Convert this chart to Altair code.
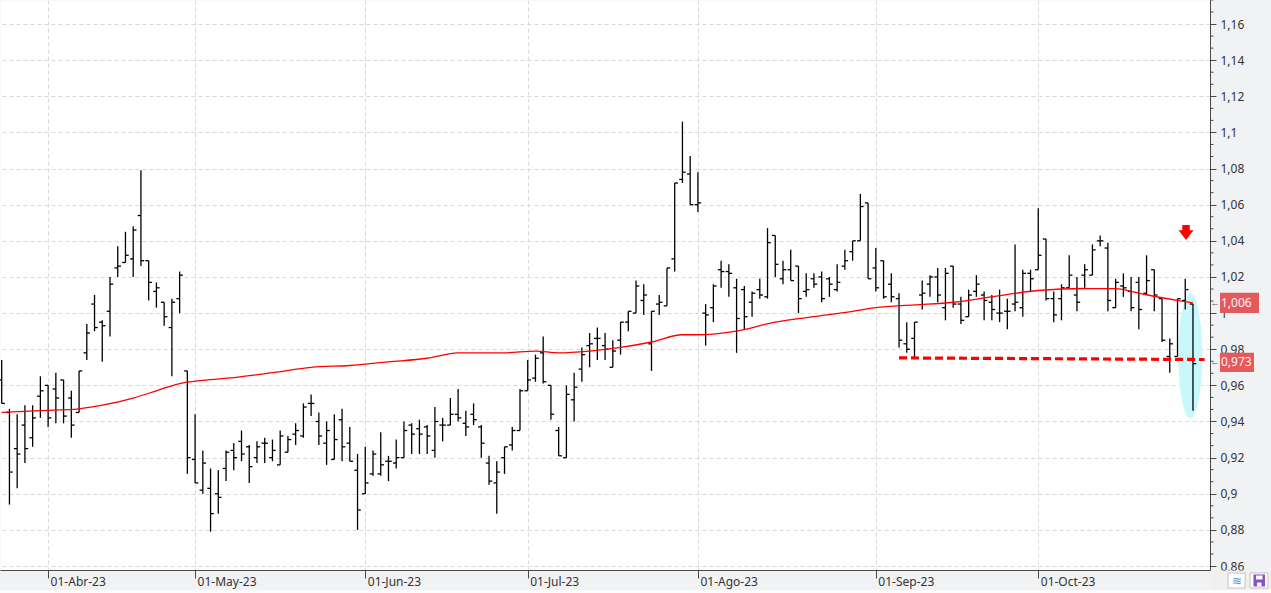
import json
import altair as alt
import pandas as pd

# ---------------- data ----------------
opens = [0.963, 0.945, 0.925, 0.938, 0.931, 0.954, 0.960, 0.958, 0.963, 0.953,
         0.945, 0.978, 1.005, 0.995, 1.001, 1.025, 1.028, 1.030, 1.054, 1.029,
         1.012, 1.006, 0.992, 1.008, 0.968, 0.919, 0.902, 0.903, 0.900, 0.914,
         0.924, 0.929, 0.926, 0.920, 0.928, 0.920, 0.916, 0.923, 0.933, 0.932,
         0.950, 0.940, 0.928, 0.919, 0.941, 0.928, 0.913, 0.900, 0.911, 0.911,
         0.918, 0.917, 0.920, 0.938, 0.936, 0.937, 0.924, 0.938, 0.938, 0.944,
         0.939, 0.944, 0.937, 0.917, 0.906, 0.920, 0.927, 0.935, 0.957, 0.964,
         0.978, 0.960, 0.935, 0.920, 0.952, 0.969, 0.982, 0.986, 0.982, 0.970,
         0.985, 0.995, 1.000, 1.007, 0.983, 1.005, 1.004, 1.030, 1.074, 1.077,
         1.060, 1.000, 1.003, 1.024, 1.023, 1.014, 1.013, 1.006, 1.013, 1.009,
         1.043, 1.019, 1.024, 1.026, 1.012, 1.019, 1.020, 1.019, 1.013, 1.026,
         1.034, 1.040, 1.061, 1.025, 1.029, 1.016, 1.008, 0.983, 0.986, 1.010,
         1.016, 1.020, 1.003, 1.026, 1.005, 0.998, 1.012, 1.010, 1.006, 1.000,
         1.001, 1.005, 1.003, 1.022, 1.024, 1.041, 1.008, 1.008, 1.014, 1.010,
         1.021, 1.021, 1.040, 1.036, 1.003, 1.015, 1.012, 1.017, 1.011, 1.024,
         1.008, 0.976, 0.976, 1.007, 1.005]
highs = [0.974, 0.947, 0.944, 0.949, 0.949, 0.965, 0.960, 0.967, 0.963, 0.957,
         0.968, 0.994, 1.010, 0.996, 1.020, 1.037, 1.045, 1.048, 1.079, 1.029,
         1.017, 1.006, 1.008, 1.023, 0.968, 0.944, 0.924, 0.914, 0.913, 0.924,
         0.928, 0.935, 0.927, 0.929, 0.931, 0.930, 0.935, 0.932, 0.939, 0.950,
         0.955, 0.945, 0.940, 0.944, 0.947, 0.937, 0.922, 0.926, 0.924, 0.934,
         0.921, 0.930, 0.940, 0.939, 0.941, 0.938, 0.948, 0.942, 0.953, 0.958,
         0.946, 0.950, 0.938, 0.921, 0.918, 0.926, 0.937, 0.958, 0.974, 0.977,
         0.987, 0.960, 0.937, 0.960, 0.967, 0.981, 0.989, 0.992, 0.989, 0.985,
         0.995, 1.001, 1.018, 1.016, 1.001, 1.010, 1.025, 1.072, 1.106, 1.087,
         1.078, 1.005, 1.016, 1.029, 1.027, 1.019, 1.015, 1.012, 1.019, 1.047,
         1.043, 1.029, 1.035, 1.026, 1.022, 1.022, 1.023, 1.020, 1.027, 1.035,
         1.040, 1.066, 1.061, 1.036, 1.029, 1.022, 1.011, 0.995, 0.995, 1.018,
         1.021, 1.025, 1.025, 1.026, 1.009, 1.013, 1.021, 1.012, 1.010, 1.013,
         1.008, 1.038, 1.024, 1.024, 1.058, 1.041, 1.012, 1.016, 1.032, 1.020,
         1.027, 1.038, 1.043, 1.039, 1.019, 1.022, 1.020, 1.020, 1.032, 1.024,
         1.008, 0.986, 1.008, 1.019, 1.005]
lows = [0.950, 0.894, 0.903, 0.917, 0.926, 0.942, 0.937, 0.939, 0.939, 0.931,
        0.945, 0.974, 0.990, 0.973, 0.987, 1.020, 1.028, 1.020, 1.026, 1.007,
        1.003, 0.993, 0.965, 1.000, 0.911, 0.906, 0.900, 0.879, 0.889, 0.907,
        0.913, 0.918, 0.906, 0.917, 0.917, 0.918, 0.916, 0.923, 0.927, 0.931,
        0.943, 0.927, 0.916, 0.919, 0.918, 0.918, 0.880, 0.900, 0.910, 0.910,
        0.907, 0.914, 0.920, 0.922, 0.922, 0.922, 0.920, 0.929, 0.938, 0.940,
        0.932, 0.938, 0.920, 0.905, 0.889, 0.911, 0.924, 0.935, 0.957, 0.962,
        0.961, 0.941, 0.921, 0.920, 0.940, 0.962, 0.970, 0.974, 0.974, 0.970,
        0.977, 0.990, 1.000, 0.999, 0.968, 0.999, 1.004, 1.023, 1.072, 1.060,
        1.056, 0.982, 0.995, 1.014, 1.009, 0.978, 0.991, 0.998, 1.008, 1.008,
        1.020, 1.016, 1.018, 1.000, 1.009, 1.014, 1.006, 1.009, 1.012, 1.024,
        1.029, 1.040, 1.019, 1.012, 1.008, 1.006, 0.981, 0.978, 0.975, 1.002,
        1.009, 1.006, 0.996, 1.003, 0.994, 0.998, 1.009, 0.996, 0.996, 0.995,
        0.991, 1.001, 0.998, 1.012, 1.024, 1.007, 0.995, 0.996, 1.014, 1.001,
        1.014, 1.021, 1.037, 1.001, 1.003, 1.009, 1.001, 0.991, 1.010, 1.001,
        0.984, 0.967, 0.976, 1.002, 0.946]
closes = [0.950, 0.912, 0.922, 0.925, 0.942, 0.957, 0.942, 0.953, 0.943, 0.938,
          0.968, 0.989, 0.992, 0.993, 1.016, 1.026, 1.032, 1.046, 1.029, 1.017,
          1.014, 0.998, 1.006, 1.021, 0.920, 0.906, 0.917, 0.889, 0.898, 0.923,
          0.920, 0.922, 0.915, 0.926, 0.928, 0.924, 0.932, 0.930, 0.935, 0.948,
          0.950, 0.932, 0.935, 0.930, 0.926, 0.918, 0.891, 0.906, 0.922, 0.916,
          0.918, 0.920, 0.935, 0.933, 0.933, 0.932, 0.940, 0.938, 0.944, 0.942,
          0.937, 0.941, 0.928, 0.907, 0.912, 0.926, 0.935, 0.957, 0.963, 0.975,
          0.962, 0.944, 0.921, 0.955, 0.959, 0.977, 0.983, 0.986, 0.980, 0.979,
          0.995, 1.001, 1.015, 1.010, 1.001, 1.006, 1.025, 1.072, 1.078, 1.060,
          1.061, 0.999, 1.015, 1.023, 1.022, 0.997, 0.998, 1.011, 1.010, 1.039,
          1.027, 1.024, 1.018, 1.008, 1.013, 1.016, 1.008, 1.016, 1.017, 1.029,
          1.040, 1.059, 1.019, 1.014, 1.009, 1.009, 0.985, 0.980, 0.995, 1.011,
          1.020, 1.010, 1.022, 1.005, 0.996, 1.010, 1.016, 1.007, 1.002, 1.000,
          1.001, 1.006, 1.022, 1.019, 1.032, 1.008, 0.999, 1.014, 1.021, 1.006,
          1.024, 1.035, 1.040, 1.007, 1.017, 1.014, 1.003, 1.002, 1.018, 1.010,
          0.985, 0.983, 1.008, 1.013, 0.972]

# moving average (sampled along the curve)
ma_idx = [0, 5, 10, 13, 17, 20, 23, 26, 30, 35, 40, 45, 50, 55, 59, 65, 69, 72, 76,
          80, 84, 88, 90, 95, 100, 105, 110, 113, 118, 123, 128, 134, 140, 144, 147,
          150, 152, 154]
ma_val = [0.945, 0.946, 0.947, 0.949, 0.953, 0.957, 0.961, 0.9628, 0.9643, 0.967,
          0.970, 0.971, 0.973, 0.975, 0.978, 0.978, 0.979, 0.978, 0.979, 0.981,
          0.984, 0.988, 0.988, 0.990, 0.995, 0.998, 1.001, 1.003, 1.0045, 1.006,
          1.009, 1.0125, 1.0136, 1.0135, 1.011, 1.0085, 1.007, 1.0057]

# support line (dashed)
sup_idx = [116.0, 155.5]
sup_val = [0.9752, 0.9743]

# price tags on the right axis
tag_val = [1.0056, 0.9727]
tag_txt = ["1,006", "0,973"]

# marker positions
arrow_idx, arrow_val = [153.1], [1.0446]
ell_idx, ell_val = [153.65], [0.9764]

month_ticks = [6, 25, 47, 68, 90, 113, 134]
month_labels = ["01-Abr-23", "01-May-23", "01-Jun-23", "01-Jul-23",
                "01-Ago-23", "01-Sep-23", "01-Oct-23"]
y_major = [0.86, 0.88, 0.90, 0.92, 0.94, 0.96, 0.98, 1.00, 1.02, 1.04,
           1.06, 1.08, 1.10, 1.12, 1.14, 1.16]
y_minor = [round(0.86 + k * 0.02 / 3, 5) for k in range(48) if k % 3 != 0]

# ---------------- chart ----------------
W, H = 1210, 570
FONT = "Noto Sans"
GRID = "#d9d9d9"
PANEL = "#f1f2f4"

bars = pd.DataFrame({"i": list(range(len(opens))), "o": opens, "h": highs,
                     "l": lows, "c": closes})
ma_df = pd.DataFrame({"i": ma_idx, "v": ma_val})
sup_df = pd.DataFrame({"i": sup_idx, "v": sup_val})
tag_df = pd.DataFrame({"v": tag_val, "lab": tag_txt, "n": [0, 1]})
arrow_df = pd.DataFrame({"i": arrow_idx, "v": arrow_val})
ell_df = pd.DataFrame({"i": ell_idx, "v": ell_val})
minor_df = pd.DataFrame({"m": y_minor})
one = pd.DataFrame({"k": [0]})

xscale = alt.Scale(domain=[-0.22, 156.2], nice=False, zero=False)
yscale = alt.Scale(domain=[0.8578, 1.1733], nice=False, zero=False)

label_expr_x = "{}[indexof({}, datum.value)]".format(
    json.dumps(month_labels).replace('"', "'"), json.dumps(month_ticks))

xaxis = alt.Axis(values=month_ticks, labelExpr=label_expr_x, orient="bottom",
                 grid=True, gridColor=GRID, gridDash=[4, 3], gridWidth=1,
                 domainColor="#4a4a4a", tickColor="#4a4a4a", tickSize=8,
                 labelAlign="left", labelBaseline="top", labelPadding=-2,
                 labelOffset=2,
                 labelFont=FONT, labelFontSize=12, labelColor="#333333",
                 labelOverlap=False, labelFlush=False, title="")
yaxis = alt.Axis(values=y_major, orient="right",
                 labelExpr="replace(format(datum.value, '.2~f'), '.', ',')",
                 grid=True, gridColor=GRID, gridDash=[4, 3], gridWidth=1,
                 domainColor="#4a4a4a", tickColor="#4a4a4a", tickSize=6,
                 labelPadding=4, labelFont=FONT, labelFontSize=12,
                 labelColor="#333333", labelOverlap=False, labelFlush=False,
                 labelBaseline="middle", title="")


def X(f):
    return alt.X(f"{f}:Q", scale=xscale, axis=xaxis, title="")


def Y(f):
    return alt.Y(f"{f}:Q", scale=yscale, axis=yaxis, title="")


ellipse_path = "M0,-1 A0.19,1 0 0,1 0,1 A0.19,1 0 0,1 0,-1 Z"
arrow_path = "M-0.5,-1 L0.5,-1 L0.5,-0.3 L1,-0.3 L0,1 L-1,-0.3 L-0.5,-0.3 Z"

ellipse = alt.Chart(ell_df).mark_point(
    shape=ellipse_path, size=15625, filled=True, color="#c9f8fc", opacity=1,
    strokeWidth=0).encode(x=X("i"), y=Y("v"))

hl = alt.Chart(bars).mark_rule(color="black", strokeWidth=1.3).encode(
    x=X("i"), y=Y("l"), y2=alt.Y2("h"))
otick = alt.Chart(bars).transform_calculate(i0="datum.i - 0.42").mark_rule(
    color="black", strokeWidth=1.3).encode(x=X("i0"), x2=alt.X2("i"), y=Y("o"))
ctick = alt.Chart(bars).transform_calculate(i1="datum.i + 0.42").mark_rule(
    color="black", strokeWidth=1.3).encode(x=X("i"), x2=alt.X2("i1"), y=Y("c"))

ma = alt.Chart(ma_df).mark_line(color="#ff0000", strokeWidth=1.3,
                                interpolate="monotone").encode(x=X("i"), y=Y("v"))
sup = alt.Chart(sup_df).mark_line(color="#ff0000", strokeWidth=3.2,
                                  strokeDash=[8, 4]).encode(x=X("i"), y=Y("v"))
arrow = alt.Chart(arrow_df).mark_point(
    shape=arrow_path, size=225, filled=True, color="#ff0000", opacity=1,
    strokeWidth=0).encode(x=X("i"), y=Y("v"))

minor = alt.Chart(minor_df).mark_rule(color="#4a4a4a", strokeWidth=1).encode(
    x=alt.value(W), x2=alt.value(W + 3.5), y=Y("m"))

# bottom strip under the right axis (cuts the lowest label like the reference)
corner = alt.Chart(one).mark_rect(fill="#f0f0f0").encode(
    x=alt.value(W + 1), x2=alt.value(W + 61), y=alt.value(H + 0.5), y2=alt.value(H + 20))
bottom_line = alt.Chart(one).mark_rect(fill="#fbfbfb").encode(
    x=alt.value(0), x2=alt.value(W + 61), y=alt.value(H + 20), y2=alt.value(H + 23))

tag_box1 = alt.Chart(tag_df).transform_filter("datum.n == 0").transform_calculate(
    t="datum.v + 0.0056", b="datum.v - 0.0056").mark_rect(color="#e5585b").encode(
    x=alt.value(W + 10), x2=alt.value(W + 49), y=Y("t"), y2=alt.Y2("b"))
tag_box2 = alt.Chart(tag_df).transform_filter("datum.n == 1").transform_calculate(
    t="datum.v + 0.0053", b="datum.v - 0.0053").mark_rect(color="#e5585b").encode(
    x=alt.value(W + 10), x2=alt.value(W + 44), y=Y("t"), y2=alt.Y2("b"))
tag_text = alt.Chart(tag_df).mark_text(
    align="left", baseline="middle", font=FONT, fontSize=12, color="#fff4f4").encode(
    x=alt.value(W + 11), y=Y("v"), text="lab:N")
tag_arrow = alt.Chart(tag_df).mark_text(
    text="←", align="center", baseline="middle", fontSize=9, color="#555555").encode(
    x=alt.value(W + 5), y=Y("v"))

btn1 = alt.Chart(one).mark_rect(fill="white", stroke="#c4c4c4", strokeWidth=1).encode(
    x=alt.value(W + 18), x2=alt.value(W + 35), y=alt.value(H + 3), y2=alt.value(H + 18))
btn1_icon = alt.Chart(one).mark_text(text="≋", fontSize=12, color="#4f8fe0",
                                     align="center", baseline="middle").encode(
    x=alt.value(W + 26.5), y=alt.value(H + 10.5))
btn2 = alt.Chart(one).mark_rect(fill="white", stroke="#c4c4c4", strokeWidth=1).encode(
    x=alt.value(W + 40), x2=alt.value(W + 58), y=alt.value(H + 3), y2=alt.value(H + 18))
btn2_a = alt.Chart(one).mark_rect(fill="#8e4fc4").encode(
    x=alt.value(W + 43.5), x2=alt.value(W + 55), y=alt.value(H + 4.5), y2=alt.value(H + 16.5))
btn2_b = alt.Chart(one).mark_rect(fill="white").encode(
    x=alt.value(W + 46), x2=alt.value(W + 52.5), y=alt.value(H + 5.5), y2=alt.value(H + 9.5))
btn2_c = alt.Chart(one).mark_rect(fill="white").encode(
    x=alt.value(W + 47), x2=alt.value(W + 51.5), y=alt.value(H + 12.5), y2=alt.value(H + 16.5))

chart = alt.layer(
    ellipse, hl, otick, ctick, ma, sup, arrow, minor, corner, bottom_line,
    tag_box1, tag_box2, tag_text, tag_arrow,
    btn1, btn1_icon, btn2, btn2_a, btn2_b, btn2_c
).properties(
    width=W, height=H,
    autosize=alt.AutoSizeParams(type="none"),
    padding={"left": 0, "top": 0, "right": 61, "bottom": 23},
    background=PANEL,
).configure_view(fill="white", stroke="transparent")

chart.save("out.html", embed_options={"renderer": "svg", "actions": False})
